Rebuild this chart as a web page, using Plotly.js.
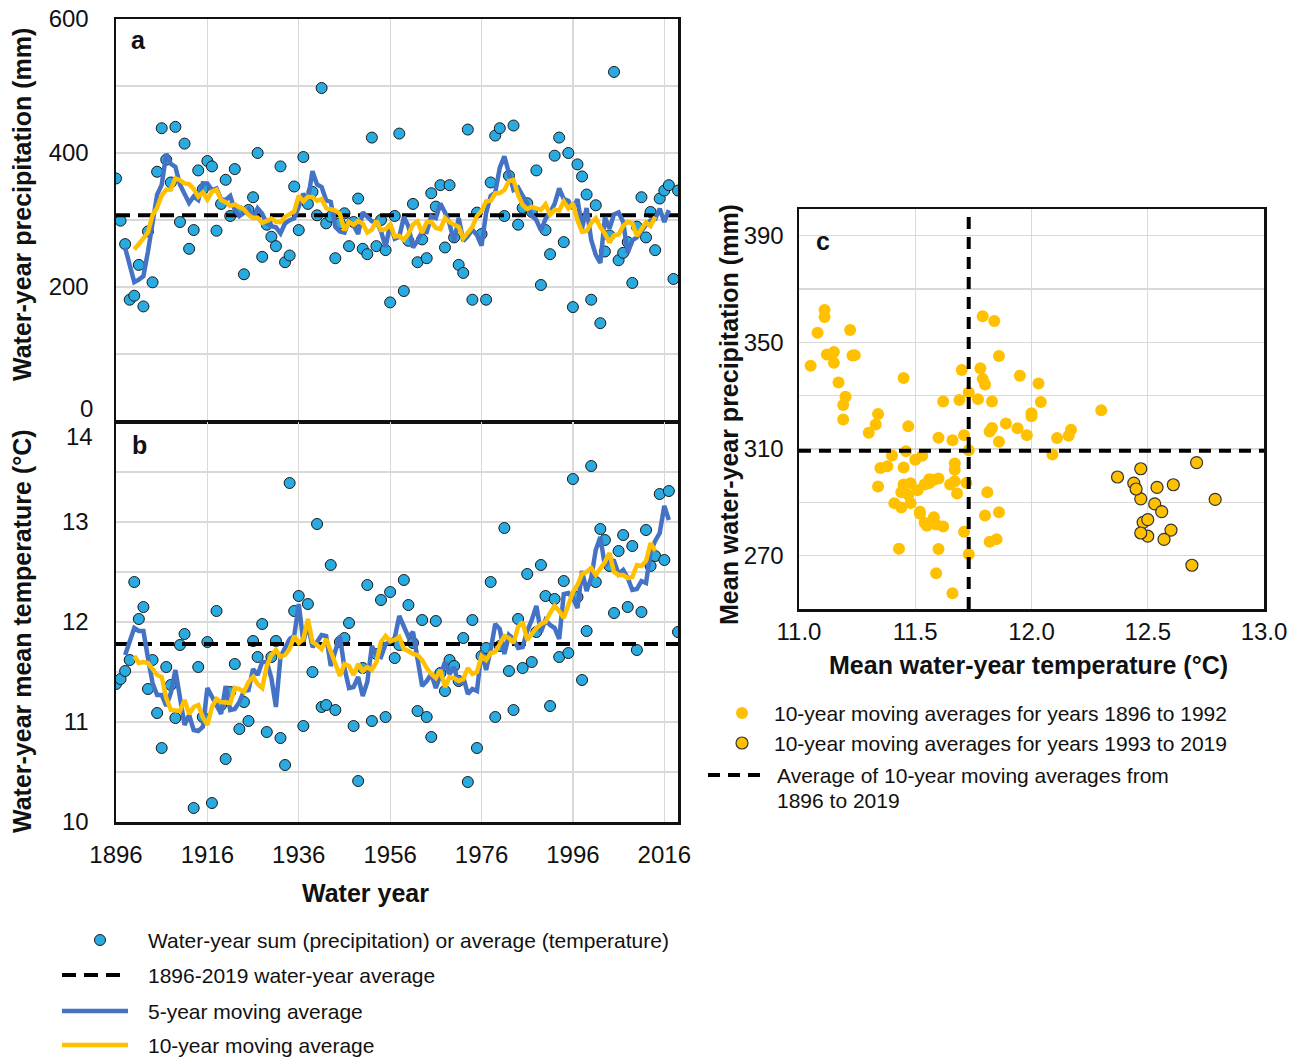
<!DOCTYPE html>
<html><head><meta charset="utf-8">
<script src="https://cdn.plot.ly/plotly-3.0.1.min.js"></script>
<style>html,body{margin:0;padding:0;background:#fff}#chart{width:1300px;height:1060px}</style>
</head><body><div id="chart"></div>
<script>
// ---------- DATA ----------
const years = [
1896,1897,1898,1899,1900,1901,1902,1903,1904,1905,
1906,1907,1908,1909,1910,1911,1912,1913,1914,1915,
1916,1917,1918,1919,1920,1921,1922,1923,1924,1925,
1926,1927,1928,1929,1930,1931,1932,1933,1934,1935,
1936,1937,1938,1939,1940,1941,1942,1943,1944,1945,
1946,1947,1948,1949,1950,1951,1952,1953,1954,1955,
1956,1957,1958,1959,1960,1961,1962,1963,1964,1965,
1966,1967,1968,1969,1970,1971,1972,1973,1974,1975,
1976,1977,1978,1979,1980,1981,1982,1983,1984,1985,
1986,1987,1988,1989,1990,1991,1992,1993,1994,1995,
1996,1997,1998,1999,2000,2001,2002,2003,2004,2005,
2006,2007,2008,2009,2010,2011,2012,2013,2014,2015,
2016,2017,2018,2019];

const precip = [
362,299,264,181,187,233,171,283,207,372,
437,390,356,439,297,414,257,285,374,346,
388,380,284,324,360,306,376,313,219,315,
334,400,245,293,275,261,380,237,247,350,
285,394,324,342,307,497,295,305,243,295,
310,261,297,332,257,249,423,261,300,255,
177,306,429,194,269,324,237,271,243,340,
320,352,259,352,274,233,221,435,181,311,
279,181,356,426,437,306,366,441,293,318,
325,312,374,203,285,249,396,423,267,400,
170,383,365,338,181,322,146,253,277,521,
240,251,267,206,290,334,274,312,255,332,
344,352,212,344];

// (1912 and 2018 fall just outside the 10-14 axis range and are not drawn in the original)
const temp = [
11.38,11.43,11.51,11.62,12.40,12.03,12.15,11.33,11.62,11.09,
10.74,11.55,11.37,11.04,11.77,11.88,9.90,10.14,11.55,11.05,
11.80,10.19,12.11,11.17,10.63,11.30,11.58,10.93,11.20,11.01,
11.81,11.65,11.98,10.90,11.65,11.81,10.84,10.57,13.39,12.11,
12.26,10.96,12.18,11.50,12.98,11.15,11.17,12.57,11.12,11.80,
11.84,11.99,10.96,10.41,11.54,12.37,11.01,11.68,12.22,11.05,
12.30,11.64,11.77,12.42,12.17,11.79,11.11,12.02,11.05,10.85,
12.01,11.49,11.31,11.62,11.56,11.41,11.84,10.40,12.02,10.74,
11.66,11.74,12.40,11.05,11.76,12.94,11.51,11.12,12.03,11.54,
12.48,11.60,11.90,12.57,12.26,11.16,12.23,11.65,12.41,11.69,
13.43,12.25,11.42,11.91,13.56,12.40,12.93,12.82,12.56,12.09,
12.71,12.87,12.15,12.76,11.72,12.10,12.92,12.56,12.66,13.28,
12.62,13.31,14.10,11.90];

// 5-year moving average, 1898-2017
const ma5Precip = [
258.6,232.8,207.2,211.0,216.2,253.2,294.0,337.8,352.4,398.8,
383.8,379.2,352.6,338.4,325.4,335.2,330.0,354.6,354.4,344.4,
347.2,330.8,330.0,335.8,314.8,305.8,311.4,316.2,302.6,317.4,
309.4,294.8,290.8,289.2,280.0,295.0,299.8,302.6,320.0,339.0,
330.4,372.8,353.0,349.2,329.4,327.0,289.6,282.8,281.2,299.0,
291.4,279.2,311.6,304.4,298.0,297.6,283.2,259.8,293.4,272.2,
275.0,304.4,290.6,259.0,268.8,283.0,282.2,305.2,302.8,324.6,
311.4,294.0,267.8,303.0,268.8,276.2,285.4,277.4,261.6,310.6,
335.8,341.2,378.2,395.2,368.6,344.8,348.6,337.8,324.4,306.4,
299.8,284.6,301.4,311.2,324.0,347.0,331.2,328.6,317.0,331.2,
287.4,317.8,270.4,248.0,235.8,303.8,287.4,308.4,311.2,297.0,
250.8,269.6,274.2,283.2,293.0,299.4,301.4,317.0,297.0,314.8];

// 10-year moving average, 1900-2014
const ma10Precip = [
255.9,263.4,272.5,281.7,307.5,318.5,336.6,345.2,345.4,362.1,
359.5,354.6,353.6,346.4,334.9,341.2,330.4,342.3,345.1,329.6,
326.5,321.1,323.1,319.2,316.1,307.6,303.1,303.5,295.9,298.7,
302.2,297.3,296.7,304.6,309.5,312.7,336.3,327.8,334.6,334.2,
328.7,331.2,317.9,315.2,314.2,309.2,284.4,297.2,292.8,298.5,
294.5,281.2,285.7,298.9,285.1,286.3,293.8,275.2,276.2,270.5,
279.0,293.3,297.9,280.9,296.7,297.2,288.1,286.5,302.9,296.7,
293.8,289.7,272.6,282.3,289.7,306.0,313.3,327.8,328.4,339.6,
340.3,344.9,358.0,359.8,337.5,322.3,316.6,319.6,317.8,315.2,
323.4,307.9,315.0,314.1,327.6,317.2,324.5,299.5,282.5,283.5,
295.6,302.6,289.4,279.6,266.4,277.3,278.5,291.3,297.2,295.0,
276.1,286.5,296.6,291.1,304.9];

const ma5Temp = [
11.67,11.80,11.94,11.91,11.91,11.64,11.39,11.27,11.27,11.16,
11.29,11.52,11.21,10.97,11.07,10.92,10.91,10.95,11.34,11.26,
11.18,11.08,11.36,11.12,11.13,11.20,11.31,11.32,11.53,11.47,
11.60,11.60,11.44,11.15,11.65,11.74,11.83,11.86,12.18,11.80,
11.98,11.75,11.80,11.87,11.86,11.56,11.70,11.86,11.54,11.34,
11.35,11.45,11.26,11.40,11.76,11.67,11.65,11.78,11.80,11.84,
12.06,11.96,11.85,11.90,11.63,11.36,11.41,11.48,11.34,11.46,
11.60,11.48,11.55,11.37,11.45,11.28,11.33,11.31,11.71,11.52,
11.72,11.98,11.93,11.68,11.87,11.83,11.74,11.75,11.91,12.02,
12.16,11.90,12.02,11.97,11.94,11.83,12.28,12.29,12.24,12.14,
12.51,12.31,12.44,12.72,12.85,12.56,12.62,12.61,12.48,12.52,
12.44,12.32,12.33,12.41,12.39,12.70,12.81,12.89,13.16,13.02];

const ma10Temp = [
11.66,11.59,11.60,11.59,11.53,11.47,11.45,11.24,11.12,11.11,
11.11,11.22,11.08,11.15,11.17,11.05,10.97,11.15,11.23,11.20,
11.19,11.19,11.34,11.33,11.30,11.40,11.45,11.38,11.34,11.56,
11.67,11.72,11.65,11.67,11.73,11.86,11.79,11.83,12.03,11.80,
11.77,11.73,11.83,11.71,11.60,11.46,11.58,11.56,11.47,11.58,
11.51,11.55,11.52,11.60,11.80,11.86,11.81,11.82,11.85,11.73,
11.71,11.68,11.67,11.62,11.54,11.48,11.44,11.52,11.35,11.45,
11.44,11.41,11.43,11.54,11.48,11.50,11.66,11.62,11.69,11.70,
11.78,11.86,11.84,11.79,11.95,12.00,11.82,11.89,11.94,11.98,
12.00,12.09,12.16,12.11,12.04,12.17,12.30,12.37,12.48,12.50,
12.54,12.47,12.53,12.60,12.69,12.50,12.47,12.47,12.44,12.45,
12.57,12.56,12.61,12.79,12.71];

const avgPrecip = 307;      // 1896-2019 water-year average (mm)
const avgTemp = 11.78;      // 1896-2019 water-year average (°C)
const avgMa10Precip = 309.3;
const avgMa10Temp = 11.73;
const splitIndex = 97;      // first 10-yr window covering 1993-2019

const xTicksYears = [1896,1916,1936,1956,1976,1996,2016];
const precipTicks = [200,400,600];
const tempTicks = [10,11,12,13];
const cPrecipTicks = [270,310,350,390];

// ---------- STYLE ----------
const W = 1300, H = 1060;
const px = v => v / W, py = v => 1 - v / H;
const FONT = 'Liberation Sans, Arial, sans-serif';
const GRID = '#d9d9d9';
const PTCOL = '#29abe2', BLUE = '#4472c4', GOLD = '#ffc000';
const yrs5 = years.slice(2, 122), yrs10 = years.slice(4, 119);
const yrEnds = [years[0], years[years.length - 1]];

const ptMarker = {size: 11, color: PTCOL, line: {color: '#1a1a1a', width: 1}};
const dashLine = {color: '#000', width: 4, dash: '14px,8px'};

const traces = [
  {x: years, y: precip, xaxis: 'x', yaxis: 'y', mode: 'markers', marker: ptMarker},
  {x: yrEnds, y: [avgPrecip, avgPrecip], xaxis: 'x', yaxis: 'y', mode: 'lines', line: dashLine},
  {x: yrs5, y: ma5Precip, xaxis: 'x', yaxis: 'y', mode: 'lines', line: {color: BLUE, width: 4.5}},
  {x: yrs10, y: ma10Precip, xaxis: 'x', yaxis: 'y', mode: 'lines', line: {color: GOLD, width: 4.5}},

  {x: years, y: temp, xaxis: 'x2', yaxis: 'y2', mode: 'markers', marker: ptMarker},
  {x: yrEnds, y: [avgTemp, avgTemp], xaxis: 'x2', yaxis: 'y2', mode: 'lines', line: dashLine},
  {x: yrs5, y: ma5Temp, xaxis: 'x2', yaxis: 'y2', mode: 'lines', line: {color: BLUE, width: 4.5}},
  {x: yrs10, y: ma10Temp, xaxis: 'x2', yaxis: 'y2', mode: 'lines', line: {color: GOLD, width: 4.5}},

  {x: ma10Temp.slice(0, splitIndex), y: ma10Precip.slice(0, splitIndex), xaxis: 'x3', yaxis: 'y3',
   mode: 'markers', marker: {size: 12, color: GOLD}},
  {x: ma10Temp.slice(splitIndex), y: ma10Precip.slice(splitIndex), xaxis: 'x3', yaxis: 'y3',
   mode: 'markers', marker: {size: 12, color: GOLD, line: {color: '#333', width: 1.2}}},
  {x: [avgMa10Temp, avgMa10Temp], y: [250, 400], xaxis: 'x3', yaxis: 'y3', mode: 'lines',
   line: {color: '#000', width: 4, dash: '12px,8px'}},
  {x: [11, 13], y: [avgMa10Precip, avgMa10Precip], xaxis: 'x3', yaxis: 'y3', mode: 'lines',
   line: {color: '#000', width: 4, dash: '12px,8px'}}
];

const tickFont = {family: FONT, size: 24, color: '#111'};
const boxAxis = {showline: true, mirror: true, linecolor: '#111', linewidth: 2.5, zeroline: false,
  showgrid: true, gridcolor: GRID, gridwidth: 1.3, ticks: '', tickfont: tickFont, fixedrange: true};

const xA = [116, 678], yA = [19, 421], yB = [422, 822];
const xC = [799, 1264], yC = [209, 609];

const layout = {
  width: W, height: H, margin: {l: 0, r: 0, t: 0, b: 0},
  paper_bgcolor: '#fff', plot_bgcolor: '#fff', showlegend: false,
  font: {family: FONT, color: '#111'},
  xaxis: Object.assign({}, boxAxis, {domain: [px(xA[0]), px(xA[1])], range: [1896, 2019], anchor: 'y',
    tickvals: xTicksYears, showticklabels: false}),
  yaxis: Object.assign({}, boxAxis, {domain: [py(yA[1]), py(yA[0])], range: [0, 600], anchor: 'x',
    tickvals: precipTicks, ticklabelstandoff: 20,
    minor: {dtick: 100, tick0: 0, showgrid: true, gridcolor: GRID, gridwidth: 1.3, ticks: ''}}),
  xaxis2: Object.assign({}, boxAxis, {domain: [px(xA[0]), px(xA[1])], range: [1896, 2019], anchor: 'y2',
    tickvals: xTicksYears, ticklabelstandoff: 10}),
  yaxis2: Object.assign({}, boxAxis, {domain: [py(yB[1]), py(yB[0])], range: [10, 14], anchor: 'x2',
    tickvals: tempTicks, ticklabelstandoff: 20,
    minor: {dtick: 0.5, tick0: 10, showgrid: true, gridcolor: GRID, gridwidth: 1.3, ticks: ''}}),
  xaxis3: Object.assign({}, boxAxis, {domain: [px(xC[0]), px(xC[1])], range: [11, 13], anchor: 'y3',
    dtick: 0.5, tick0: 11, tickformat: '.1f', ticklabelstandoff: 0}),
  yaxis3: Object.assign({}, boxAxis, {domain: [py(yC[1]), py(yC[0])], range: [250, 400], anchor: 'x3',
    tickvals: cPrecipTicks, ticklabelstandoff: 8,
    minor: {dtick: 20, tick0: 250, showgrid: true, gridcolor: GRID, gridwidth: 1.3, ticks: ''}}),
  annotations: [],
  shapes: []
};

function ann(x, y, text, opts) {
  layout.annotations.push(Object.assign({xref: 'paper', yref: 'paper', x: px(x), y: py(y), text: text,
    showarrow: false, xanchor: 'left', yanchor: 'middle', font: {family: FONT, size: 21, color: '#111'}}, opts || {}));
}
const bold = (s) => ({family: FONT, size: s, color: '#111', weight: 'bold'});

// edge tick labels moved inside like the original
ann(95, 408, '0', {xanchor: 'right', font: tickFont});
ann(95, 436, '14', {xanchor: 'right', font: tickFont});
// panel letters
ann(138, 40, '<b>a</b>', {xanchor: 'center', font: bold(25)});
ann(139, 445, '<b>b</b>', {xanchor: 'center', font: bold(25)});
ann(823, 241, '<b>c</b>', {xanchor: 'center', font: bold(25)});
// axis titles
ann(22, 205, '<b>Water-year precipitation (mm)</b>', {xanchor: 'center', textangle: -90, font: bold(25)});
ann(22, 631, '<b>Water-year mean temperature (°C)</b>', {xanchor: 'center', textangle: -90, font: bold(25)});
ann(366, 893, '<b>Water year</b>', {xanchor: 'center', font: bold(25)});
ann(729, 415, '<b>Mean water-year precipitation (mm)</b>', {xanchor: 'center', textangle: -90, font: bold(25)});
ann(1028, 665, '<b>Mean water-year temperature (°C)</b>', {xanchor: 'center', font: bold(25)});

// left legend
const legL = [
  ['Water-year sum (precipitation) or average (temperature)', 940],
  ['1896-2019 water-year average', 975],
  ['5-year moving average', 1011],
  ['10-year moving average', 1045]
];
legL.forEach(([t, y]) => ann(146, y, t));
function circle(cx, cy, d, fill, lineCol, lw) {
  layout.shapes.push({type: 'circle', xref: 'paper', yref: 'paper',
    x0: px(cx - d / 2), x1: px(cx + d / 2), y0: py(cy + d / 2), y1: py(cy - d / 2),
    fillcolor: fill, line: {color: lineCol, width: lw}});
}
function hline(x0, x1, y, col, w, dash) {
  layout.shapes.push({type: 'line', xref: 'paper', yref: 'paper', x0: px(x0), x1: px(x1), y0: py(y), y1: py(y),
    line: {color: col, width: w, dash: dash || 'solid'}});
}
circle(100, 940, 11, PTCOL, '#1a1a1a', 1);
hline(62, 128, 975, '#000', 4, '14px,8px');
hline(62, 128, 1011, BLUE, 4.5);
hline(62, 128, 1045, GOLD, 4.5);

// right legend
circle(742, 713, 12, GOLD, GOLD, 0);
circle(742, 743, 12, GOLD, '#333', 1.2);
hline(708, 765, 775, '#000', 4, '12px,8px');
ann(772, 713, '10-year moving averages for years 1896 to 1992');
ann(772, 743, '10-year moving averages for years 1993 to 2019');
ann(775, 775, 'Average of 10-year moving averages from');
ann(775, 800, '1896 to 2019');

Plotly.newPlot('chart', traces, layout, {staticPlot: true});
</script></body></html>
